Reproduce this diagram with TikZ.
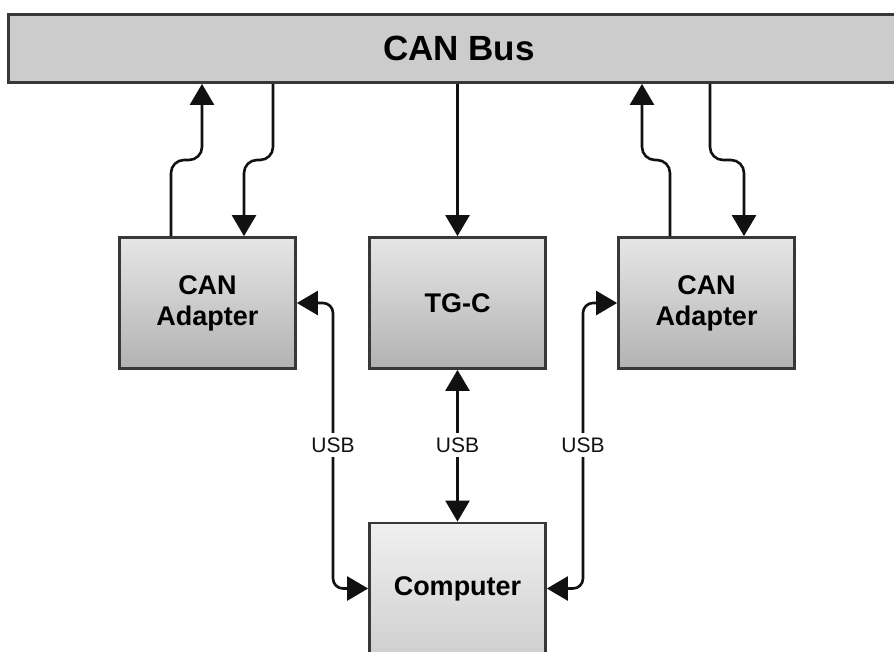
\documentclass[tikz,border=0pt]{standalone}
\usepackage{fontspec}
\setmainfont{Liberation Sans}
\usetikzlibrary{arrows.meta}

\definecolor{edge}{HTML}{383838}
\definecolor{busfill}{HTML}{CCCCCC}
\definecolor{boxtop}{HTML}{E6E6E6}
\definecolor{boxbot}{HTML}{B2B2B2}
\definecolor{pctop}{HTML}{F0F0F0}
\definecolor{pcbot}{HTML}{D0D0D0}
\definecolor{ink}{HTML}{111111}

\begin{document}
\begin{tikzpicture}[x=1pt, y=-1pt,
  busbox/.style={draw=edge, line width=2.8pt, fill=busfill, minimum width=901pt,
    minimum height=68pt, inner sep=0pt, font=\fontsize{35}{40}\selectfont\bfseries},
  block/.style={draw=edge, line width=2.8pt, minimum width=176pt, minimum height=131pt,
    inner sep=0pt, align=center, font=\fontsize{27}{31}\selectfont\bfseries,
    top color=boxtop, bottom color=boxbot},
  pcblock/.style={block, top color=pctop, bottom color=pcbot},
  link/.style={draw=ink, line width=2.6pt, rounded corners=10pt},
  jogged/.style={link, rounded corners=13pt},
  tipend/.style={-{Triangle[length=21pt,width=24pt]}},
  tipboth/.style={{Triangle[length=21pt,width=24pt]}-{Triangle[length=21pt,width=24pt]}},
  usb/.style={fill=white, inner xsep=2pt, inner ysep=5pt, text=ink,
    font=\fontsize{21}{21}\selectfont}
]
\useasboundingbox (0,0) rectangle (894,651);
\clip (0,0) rectangle (894,651);
\fill[white] (0,0) rectangle (894,651);

% bus and devices
\node[busbox] (bus) at (459,48.5) {\raisebox{-2pt}{CAN Bus}};
\node[block] (adL) at (207.5,303) {CAN\\Adapter};
\node[block] (tgc) at (457.5,303) {TG-C};
\node[block] (adR) at (706.5,303) {CAN\\Adapter};
\node[pcblock] (comp) at (457.5,588.5) {Computer};

% lanes of the bus links
\coordinate (jog) at (0,160);
\coordinate (mid) at (0,445);
\coordinate (lA) at (171,0);
\coordinate (lB) at (202,0);
\coordinate (lC) at (244,0);
\coordinate (lD) at (273,0);
\coordinate (rA) at (670,0);
\coordinate (rB) at (642,0);
\coordinate (rC) at (710,0);
\coordinate (rD) at (744,0);
\coordinate (uL) at (333,0);
\coordinate (uR) at (583,0);

% adapters <-> bus
\draw[jogged, tipend] (adL.north -| lA) |- (jog -| lB) -- (bus.south -| lB);
\draw[jogged, tipend] (bus.south -| lD) |- (jog -| lC) -- (adL.north -| lC);
\draw[jogged, tipend] (adR.north -| rA) |- (jog -| rB) -- (bus.south -| rB);
\draw[jogged, tipend] (bus.south -| rC) |- (jog -| rD) -- (adR.north -| rD);
\draw[link, tipend] (bus.south -| tgc.north) -- (tgc.north);

% USB links to the computer
\draw[link, tipboth] (adL.east) -- (adL.east -| uL) -- (comp.west -| uL) -- (comp.west);
\draw[link, tipboth] (tgc.south) -- (comp.north);
\draw[link, tipboth] (adR.west) -- (adR.west -| uR) -- (comp.east -| uR) -- (comp.east);

\node[usb] (usbL) at (uL |- mid) {USB};
\node[usb] (usbM) at (tgc.south |- mid) {USB};
\node[usb] (usbR) at (uR |- mid) {USB};
\end{tikzpicture}
\end{document}
